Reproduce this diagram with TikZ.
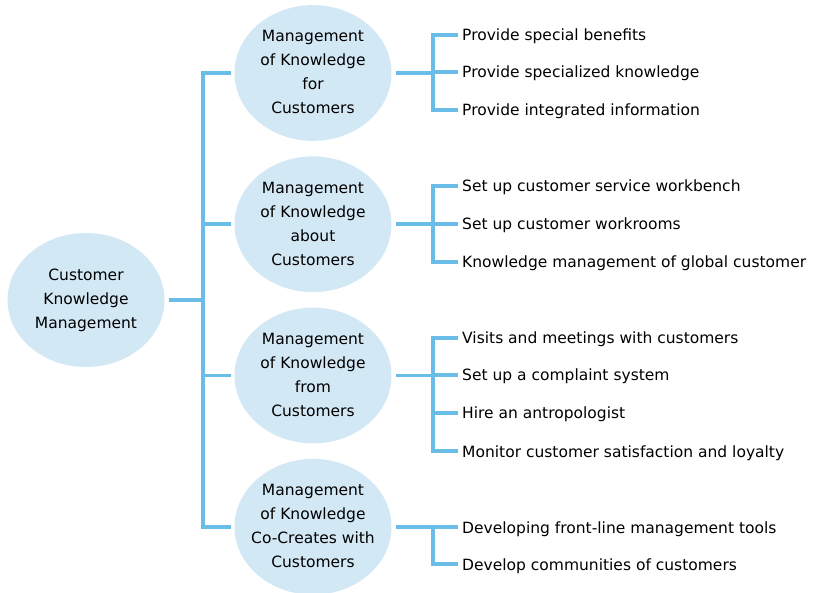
\documentclass[tikz,border=0pt]{standalone}
\usepackage{fontspec}
\setmainfont{DejaVu Sans}
\usetikzlibrary{positioning, shapes.geometric}
\definecolor{bubblefill}{HTML}{D3E8F5}
\definecolor{branchline}{HTML}{6ABDE6}

\begin{document}
\begin{tikzpicture}[
  x=1pt, y=1pt,
  bubble/.style = {ellipse, fill=bubblefill, minimum width=157pt, minimum height=134pt,
                   inner sep=0pt, outer sep=4pt,
                   font=\fontsize{15.5}{24}\selectfont},
  item/.style = {anchor=west, inner xsep=4pt, inner ysep=0pt, text height=12pt, text depth=0pt,
                 font=\fontsize{15.5}{18}\selectfont},
  link/.style = {draw=branchline, line width=3.6pt},
  node distance=7.5pt
]
  \useasboundingbox (0,0) rectangle (814,-593);

  % Root
  \node[bubble] (ckm) at (86,-300) {\makebox[0pt]{%
    \begin{tabular}{@{}c@{}}
      Customer \\ Knowledge \\ Management
    \end{tabular}}};

  % Second level
  \node[bubble] (forcust) at (313,-73) {\makebox[0pt]{%
    \begin{tabular}{@{}c@{}}
      Management \\ of Knowledge \\ for \\ Customers
    \end{tabular}}};
  \node[bubble, below=of forcust] (aboutcust) {\makebox[0pt]{%
    \begin{tabular}{@{}c@{}}
      Management \\ of Knowledge \\ about \\ Customers
    \end{tabular}}};
  \node[bubble, below=of aboutcust] (fromcust) {\makebox[0pt]{%
    \begin{tabular}{@{}c@{}}
      Management \\ of Knowledge \\ from \\ Customers
    \end{tabular}}};
  \node[bubble, below=of fromcust] (cocust) {\makebox[0pt]{%
    \begin{tabular}{@{}c@{}}
      Management \\ of Knowledge \\ Co-Creates with \\ Customers
    \end{tabular}}};

  % Knowledge for customers
  \node[item] (for1) at (458,-35)  {Provide special benefits};
  \node[item] (for2) at (458,-72)  {Provide specialized knowledge};
  \node[item] (for3) at (458,-110) {Provide integrated information};

  % Knowledge about customers
  \node[item] (about1) at (458,-186) {Set up customer service workbench};
  \node[item] (about2) at (458,-224) {Set up customer workrooms};
  \node[item] (about3) at (458,-262) {Knowledge management of global customer};

  % Knowledge from customers
  \node[item] (from1) at (458,-338) {Visits and meetings with customers};
  \node[item] (from2) at (458,-375) {Set up a complaint system};
  \node[item] (from3) at (458,-413) {Hire an antropologist};
  \node[item] (from4) at (458,-451) {Monitor customer satisfaction and loyalty};

  % Co-creation with customers
  \node[item] (co1) at (458,-527) {Developing front-line management tools};
  \node[item] (co2) at (458,-564) {Develop communities of customers};

  % root -> second level
  \coordinate[right=34.5pt of ckm.east] (rootsplit);
  \draw[link] (ckm.east) -- (rootsplit);
  \draw[link] (rootsplit) |- (forcust.west);
  \draw[link] (rootsplit) |- (aboutcust.west);
  \draw[link] (rootsplit) |- (fromcust.west);
  \draw[link] (rootsplit) |- (cocust.west);

  % second level -> items
  \coordinate[right=37.5pt of forcust.east] (forsplit);
  \draw[link] (forcust.east) -- (forsplit);
  \draw[link] (forsplit) |- (for1.west);
  \draw[link] (forsplit) |- (for2.west);
  \draw[link] (forsplit) |- (for3.west);

  \coordinate[right=37.5pt of aboutcust.east] (aboutsplit);
  \draw[link] (aboutcust.east) -- (aboutsplit);
  \draw[link] (aboutsplit) |- (about1.west);
  \draw[link] (aboutsplit) |- (about2.west);
  \draw[link] (aboutsplit) |- (about3.west);

  \coordinate[right=37.5pt of fromcust.east] (fromsplit);
  \draw[link] (fromcust.east) -- (fromsplit);
  \draw[link] (fromsplit) |- (from1.west);
  \draw[link] (fromsplit) |- (from2.west);
  \draw[link] (fromsplit) |- (from3.west);
  \draw[link] (fromsplit) |- (from4.west);

  \coordinate[right=37.5pt of cocust.east] (cosplit);
  \draw[link] (cocust.east) -- (cosplit);
  \draw[link] (cosplit) |- (co1.west);
  \draw[link] (cosplit) |- (co2.west);

\end{tikzpicture}
\end{document}
